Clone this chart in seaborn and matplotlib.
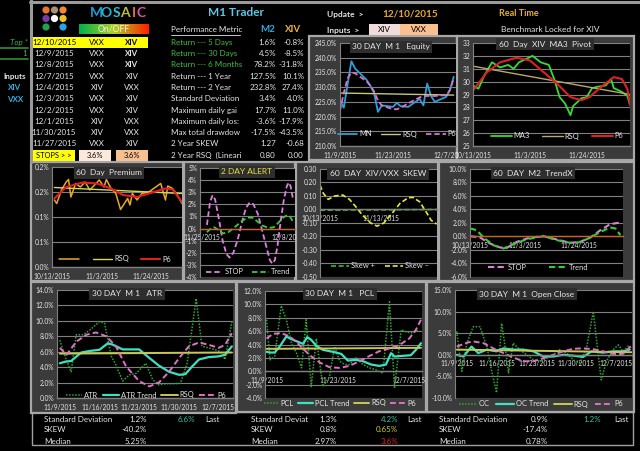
import numpy as np
import pandas as pd
import matplotlib
matplotlib.use('Agg')
import matplotlib.pyplot as plt
from matplotlib.patches import Rectangle, Circle
import seaborn as sns

# ------------------------------------------------------------------ data
table_dates = ['12/10/2015', '12/9/2015', '12/8/2015', '12/7/2015', '12/4/2015',
               '12/3/2015', '12/2/2015', '12/1/2015', '11/30/2015', '11/27/2015']
table_on = ['VXX', 'VXX', 'VXX', 'VXX', 'XIV', 'VXX', 'VXX', 'XIV', 'XIV', 'VXX']
table_off = ['XIV', 'XIV', 'XIV', 'XIV', 'VXX', 'XIV', 'XIV', 'VXX', 'VXX', 'XIV']
stops = ['3.6%', '3.6%']

metric_labels = ['Return --- 5 Days', 'Return --- 30 Days', 'Return --- 6 Months',
                 'Return --- 1 Year', 'Return --- 2 Year', 'Standard Deviation',
                 'Maximum daily gai', 'Maximum daily los:', 'Max total drawdow',
                 '2 Year SKEW', '2 Year RSQ  (Lineari']
metric_m2 = ['1.6%', '4.5%', '78.2%', '127.5%', '232.8%', '3.4%', '17.7%', '-3.6%',
             '-17.5%', '1.27', '0.80']
metric_xiv = ['-0.8%', '-8.5%', '-31.8%', '10.1%', '27.4%', '4.0%', '11.0%', '-17.9%',
              '-43.5%', '-0.68', '0.00']

# 30 DAY M1 Equity (day offsets from 11/9/2015)
eq_days = [0, 1, 2, 3, 4, 7, 8, 9, 10, 11, 14, 15, 16, 18, 21, 22, 23, 24, 25, 28, 29, 30]
eq_mn = [225.5, 223.0, 231.0, 238.8, 236.3, 232.5, 230.5, 228.0, 221.6, 223.8, 223.3,
         224.7, 223.5, 223.3, 226.0, 223.8, 231.2, 227.0, 225.0, 226.7, 229.0, 233.5]
eq_p6 = [222.0, 228.0, 233.0, 235.0, 234.7, 232.0, 230.5, 228.5, 225.5, 223.8, 222.5,
         222.5, 223.0, 224.5, 226.5, 227.0, 227.0, 227.0, 227.0, 227.3, 229.0, 233.0]
eq_rsq_days = [0, 30]
eq_rsq = [228.0, 227.3]
eq_xticks = [0, 14, 28]
eq_xlabels = ['11/9/2015', '11/23/2015', '12/7/20']

# 60 Day XIV MA3 Pivot (day offsets from 10/13/2015)
ma_days = [0, 2, 4, 7, 10, 13, 15, 17, 20, 22, 25, 28, 30, 32, 34, 36, 37, 40, 42, 44,
           46, 49, 51, 52, 55, 57, 58]
ma_vals = [29.7, 29.45, 30.4, 31.5, 31.1, 31.3, 31.0, 31.5, 31.8, 32.0, 31.5, 31.3, 30.2,
           28.8, 28.3, 27.4, 28.1, 28.7, 28.8, 29.5, 29.6, 29.7, 30.2, 29.5, 29.2, 28.9, 28.2]
ma_p6_days = [0, 5, 10, 16, 21, 26, 31, 36, 40, 43, 48, 52, 55, 57, 58]
ma_p6 = [29.3, 30.7, 31.5, 31.85, 31.65, 30.75, 29.85, 28.8, 28.55, 28.8, 29.7, 30.35,
         30.2, 29.45, 28.2]
ma_rsq_days = [0, 58]
ma_rsq = [31.2, 29.0]
ma_xticks = [0, 21, 42]
ma_xlabels = ['10/13/2015', '11/3/2015', '11/24/2015']

# 60 Day Premium
pr_days = [1, 2, 4, 6, 7, 8, 10, 12, 14, 16, 18, 20, 22, 23, 25, 27, 29, 32, 33, 34,
           36, 38, 41, 43, 46, 48, 49, 51, 53, 55]
pr_vals = [0.134, 0.127, 0.154, 0.170, 0.175, 0.140, 0.167, 0.160, 0.170, 0.154, 0.164,
           0.174, 0.160, 0.175, 0.157, 0.147, 0.115, 0.137, 0.124, 0.147, 0.134, 0.147,
           0.150, 0.157, 0.167, 0.134, 0.162, 0.157, 0.144, 0.127]
pr_p6_days = [1, 6, 13, 19, 25, 30, 36, 41, 48, 51, 55]
pr_p6 = [0.137, 0.160, 0.169, 0.167, 0.157, 0.144, 0.140, 0.147, 0.157, 0.155, 0.130]
pr_rsq_days = [1, 55]
pr_rsq = [0.159, 0.147]
pr_xticks = [0, 21, 42]
pr_xlabels = ['10/13/2015', '11/3/2015', '11/24/2015']
pr_yticks = [0.0, 0.05, 0.10, 0.15, 0.20]
pr_ylabels = ['0.0%', '0.1%', '0.1%', '0.2%', '0.2%']

# 2 DAY ALERT (day offsets from 11/25/2015)
al_stop_days = [0.8, 1.3, 1.7, 2.1, 2.7, 3.3, 3.9, 4.4, 5.0, 5.7, 6.4, 7.0, 7.6, 8.2, 8.9,
                9.6, 10.3, 10.8, 11.2, 11.6, 12.0, 12.5, 13.0, 13.5, 13.8, 14.1, 14.5]
al_stop = [0.3, 2.2, 2.75, 2.4, 0.8, -1.0, -2.1, -2.4, -2.0, -0.9, 0.6, 1.7, 2.15, 2.0, 1.2,
           -0.2, -1.6, -2.6, -2.9, -2.6, -1.5, 0.5, 2.3, 3.5, 3.8, 3.5, 2.4]
al_trend_days = [0.8, 1.5, 2.0, 2.7, 3.4, 4.2, 5.2, 6.2, 7.2, 8.0, 8.8, 9.6, 10.6, 11.4,
                 12.2, 13.0, 13.6, 14.0, 14.5]
al_trend = [-0.3, 0.05, 0.1, -0.15, -0.4, -0.3, 0.1, 0.55, 0.9, 0.9, 0.6, 0.25, 0.05, 0.1,
            0.5, 0.95, 1.1, 1.0, 0.55]
al_xticks = [0, 13]
al_xlabels = ['11/25/2015', '12/8/20']

# 60 DAY XIV/VXX SKEW (day offsets from 10/13/2015)
sk_minus_days = [0, 1.7, 4.2, 7.5, 11.7, 15.1, 18.4, 21.8, 26, 29.3, 32.7, 36.9, 41, 45.2,
                 47.7, 51.1, 54.4, 57, 59.8]
sk_minus = [0.181, 0.12, 0.075, 0.10, 0.107, 0.075, 0.02, -0.042, -0.10, -0.123, -0.10,
            -0.03, 0.045, 0.087, 0.09, 0.057, -0.017, -0.08, -0.108]
sk_plus_days = [0, 60]
sk_plus = [-0.005, 0.0]
sk_xticks = [0, 31]
sk_xlabels = ['10/13/2015', '11/13/2015']

# 60 DAY M2 TrendX
tx_stop_days = [0, 3.9, 7.7, 11.6, 14.2, 18, 23.2, 28.4, 33.5, 38.7, 42.5, 46.4, 50.3,
                54.1, 57.3, 58.6]
tx_stop = [0.05, -0.15, -1.04, -1.63, -1.68, -0.8, -0.15, 0.05, -0.45, -0.94, -0.79,
           -0.15, 0.94, 1.83, 2.03, 1.93]
tx_trend_days = [0, 2.6, 5.2, 9, 12.9, 16.8, 21.9, 28.4, 33.5, 38.7, 42.5, 46.4, 50.3,
                 54.1, 56.1, 58]
tx_trend = [1.19, 0.94, -0.15, -1.29, -1.78, -1.14, -0.4, 0.05, -0.54, -0.94, -0.84,
            -0.15, 0.69, 1.34, 1.19, 0.2]
tx_xticks = [0, 21, 42]
tx_xlabels = ['10/13/2015', '11/3/2015', '11/24/2015']

# 30 DAY M1 ATR (day offsets from 11/9/2015)
atr_days = [0, 0.9, 2, 2.9, 4.1, 5.3, 7, 7.9, 9.1, 9.9, 11.1, 12.3, 13.5, 15.2, 16.4, 17.5,
            18.7, 19.9, 21.3, 22.5, 24.1, 25.1, 26.3, 27.5, 28.4, 29.2, 30.4]
atr_vals = [7.5, 5.4, 3.4, 8.2, 8.2, 8.8, 9.9, 9.7, 5.4, 4.3, 2.2, 3.0, 3.2, 4.5, 2.4, 1.7,
            1.85, 1.85, 1.9, 4.5, 12.9, 6.7, 6.5, 6.25, 6.0, 5.0, 9.9]
atr_tr_days = [0, 0.9, 2, 3.8, 5.3, 7, 8.5, 9.4, 11.1, 12.6, 14, 15.8, 17.5, 19.3, 21.1,
               22.2, 23.4, 24.6, 26.3, 28.1, 29.2, 30.4]
atr_trend = [4.5, 4.7, 4.8, 5.9, 6.1, 6.25, 7.1, 6.9, 6.3, 6.3, 6.3, 5.2, 4.2, 3.4, 3.0,
             3.1, 4.1, 5.0, 5.3, 5.4, 5.6, 6.7]
atr_p6_days = [0, 1.2, 2.9, 4.7, 6.4, 8.2, 9.9, 11.7, 14, 15.8, 17.5, 19.3, 21.1, 22.8,
               24.6, 26.3, 28.1, 29.2, 30.4]
atr_p6 = [6.5, 5.6, 7.3, 8.2, 8.5, 8.0, 6.7, 4.1, 2.2, 1.5, 2.0, 3.4, 5.2, 6.7, 7.2, 6.9,
          6.5, 6.9, 8.4]
atr_rsq_days = [0, 30.4]
atr_rsq = [5.75, 5.9]
d30_xticks = [0, 7, 14, 21, 28]
d30_xlabels = ['11/9/2015', '11/16/2015', '11/23/2015', '11/30/2015', '12/7/2015']

# 30 DAY M1 PCL
pcl_days = [0, 0.7, 1.6, 2.9, 3.9, 4.9, 5.9, 6.9, 7.8, 8.8, 9.8, 11.1, 12.4, 13.4, 14.4,
            15.4, 16.3, 17.6, 19, 20.3, 21.6, 22.9, 24.2, 25.2, 26.5, 27.5, 28.8, 30.1]
pcl_vals = [7.7, 1.7, 2.2, 9.8, 7.7, 4.2, 2.7, 0.5, 7.7, -2.3, 4.9, -2.3, -0.8, 3.7, 1.5,
            1.0, 1.0, 2.0, 1.0, 0.5, 0.2, -0.3, 10.4, -2.5, 6.2, 5.9, 5.7, 6.2]
pcl_tr_days = [0, 0.7, 1.6, 2.6, 3.9, 4.9, 6.2, 7.2, 8, 8.8, 9.8, 11.1, 13.1, 14.7, 16,
               17.6, 19, 20.6, 22.2, 23.5, 24.5, 25.2, 26.8, 28.4, 29.4, 30.4]
pcl_trend = [2.9, 2.8, 2.8, 3.7, 5.2, 4.8, 4.4, 4.1, 5.1, 4.7, 3.8, 3.2, 2.9, 2.6, 1.6,
             1.7, 1.5, 1.0, 0.8, 1.0, 2.7, 2.2, 2.3, 2.4, 3.2, 4.2]
pcl_p6_days = [0, 1.3, 2.9, 4.6, 6.5, 8.5, 10.5, 12.4, 14.4, 16.3, 18.3, 20.3, 22.2, 24.2,
               26.1, 28.1, 29.4, 30.4]
pcl_p6 = [4.9, 5.6, 5.7, 5.2, 3.9, 2.4, 1.3, 0.6, 0.5, 0.8, 1.5, 2.3, 3.0, 3.4, 3.9, 4.9,
          6.2, 7.7]
pcl_rsq_days = [0, 30.4]
pcl_rsq = [3.35, 3.5]
pcl_xticks = [0, 14, 28]
pcl_xlabels = ['11/9/2015', '11/23/2015', '12/7/2015']

# 30 DAY M1 Open Close
oc_days = [0, 0.9, 1.8, 2.9, 4.1, 5.3, 6.1, 7, 7.9, 8.5, 9.1, 9.9, 11.1, 12.3, 13.5, 14.6,
           15.8, 17, 18.1, 19.3, 20.5, 21.6, 22.8, 24, 24.9, 25.4, 26.3, 27.5, 28.4, 29.2,
           30.4]
oc_vals = [5.4, -3.8, 2.7, 6.5, 6.5, 1.9, -3.5, -8.8, 7.3, 1.9, -4.2, 2.7, 1.2, 0.0, -1.2,
           -1.5, -0.8, 0.0, 1.2, 0.4, -1.2, -1.9, 1.5, 10.0, -0.4, -5.8, -1.5, 1.2, 2.3,
           0.8, 2.3]
oc_tr_days = [0, 1.2, 2.6, 3.8, 5.3, 7, 8.2, 9.9, 11.7, 13.5, 15.2, 17, 18.7, 20.5, 22.2,
              23.7, 25.7, 27.5, 29.2, 30.4]
oc_trend = [0.0, -0.4, 1.9, 0.4, 1.2, 0.8, 1.5, 1.2, 1.2, 0.8, -0.4, -0.4, 0.0, -0.2, -0.5,
            0.8, 0.5, 0.8, 0.8, 1.2]
oc_p6_days = [0, 1.8, 2.9, 4.7, 6.4, 8.2, 9.9, 11.7, 13.5, 15.2, 17, 18.7, 20.5, 22.2, 24,
              25.7, 27.5, 29.2, 30.7]
oc_p6 = [1.9, 2.8, 3.1, 2.7, 1.5, 0.4, -0.6, -1.5, -1.5, -0.8, 0.0, 0.8, 1.4, 1.5, 1.3,
         0.8, 0.2, 0.2, 2.1]
oc_rsq_days = [0, 30.7]
oc_rsq = [1.2, 0.6]

# bottom statistics
stat_labels = ['Standard Deviation', 'SKEW', 'Median']
atr_stats = ['1.2%', '-40.2%', '5.25%']
atr_last = '6.6%'
pcl_stat_labels = ['Standard Deviat', 'SKEW', 'Median']
pcl_stats = ['1.3%', '0.8%', '2.97%']
pcl_extra = ['4.2%', '0.65%', '3.6%']
oc_stats = ['0.9%', '-17.4%', '0.78%']
oc_last = '1.2%'

# ------------------------------------------------------------------ style
sns.set_theme(style='dark')
plt.rcParams['font.family'] = ['Lato', 'DejaVu Sans']
W, H = 640, 451
PANEL = '#3b3b3b'
BORDER = '#a8a8a8'
TXT = '#e6e6e6'
GRID = '#808080'
FS_TICK = 4.8
FS_TAB = 5.8
FS_LEG = 5.4

fig = plt.figure(figsize=(6.4, 4.51), dpi=100, facecolor='black')
bg = fig.add_axes([0, 0, 1, 1])
bg.set_facecolor('black')
bg.axis('off')


def T(x, y, s, ha='left', va='center', color=TXT, size=FS_TAB, **kw):
    return fig.text(x / W, 1 - y / H, s, ha=ha, va=va, color=color, fontsize=size, **kw)


def rect(l, t, r, b, fc, ec='none', lw=0.0, z=1):
    bg.add_patch(Rectangle((l, t), r - l, b - t, facecolor=fc, edgecolor=ec, lw=lw, zorder=z))


def line(ax, x, y, color, lw=1.2, ls='-'):
    sns.lineplot(x=x, y=y, ax=ax, color=color, linewidth=lw, linestyle=ls,
                 errorbar=None, sort=False, legend=False)
    return ax.lines[-1]


def chart(panel, plot, title, title_xy, ylim, yticks, ylabels, xlim, xticks, xlabels,
          zero_axis=False, zero_color=GRID, title_color=TXT):
    l, t, r, b = panel
    rect(l, t, r, b, PANEL, BORDER, 1.6, z=1)
    pl, pt, pr, pb = plot
    ax = fig.add_axes([pl / W, 1 - pb / H, (pr - pl) / W, (pb - pt) / H])
    ax.set_facecolor('black')
    ax.set_ylim(*ylim)
    ax.set_xlim(*xlim)
    ax.set_yticks(yticks)
    ax.set_yticklabels(ylabels)
    ax.set_xticks(xticks)
    ax.set_xticklabels(xlabels)
    ax.yaxis.grid(True, color=GRID, lw=0.8)
    ax.xaxis.grid(False)
    ax.set_axisbelow(True)
    for s in ['top', 'right']:
        ax.spines[s].set_visible(False)
    ax.spines['left'].set_color(GRID)
    ax.spines['left'].set_linewidth(0.8)
    ax.spines['bottom'].set_color(zero_color)
    ax.spines['bottom'].set_linewidth(1.0)
    if zero_axis:
        ax.spines['bottom'].set_position(('data', 0))
    ax.tick_params(axis='y', length=0, pad=2, labelsize=FS_TICK, labelcolor=TXT)
    ax.tick_params(axis='x', length=2.5, width=0.6, color=GRID, pad=1.5,
                   labelsize=FS_TICK, labelcolor=TXT, direction='out')
    ax.set_xlabel('')
    ax.set_ylabel('')
    T(title_xy[0], title_xy[1], title, ha='center', color=title_color, size=6.0,
      bbox=dict(boxstyle='square,pad=0.3', facecolor='#2e2e2e', edgecolor='none'),
      zorder=6)
    return ax


def legend(ax, handles, labels, cx, cy, hl=2.4, cs=1.0):
    ax.legend(handles, labels, loc='center', bbox_to_anchor=(cx / W, 1 - cy / H),
              bbox_transform=fig.transFigure, ncol=len(labels), frameon=False,
              fontsize=FS_LEG, labelcolor=TXT, handlelength=hl, columnspacing=cs,
              handletextpad=0.25, borderpad=0.1)


# ------------------------------------------------------------------ header area
bg.plot([30, 640], [2, 2], color='#9a9a9a', lw=2.2)
bg.plot([30.5, 30.5], [0, 162], color='#9a9a9a', lw=2.2)

dot_xy = [(46, 10), (54.5, 10), (63, 10), (46, 18.5), (54.5, 18.5), (63, 18.5), (46, 27), (63, 27)]
dot_c = ['#e8742a', '#a89070', '#f08a30', '#7a3aa8', '#ffffff', '#f0c020', '#20a050', '#20a8e8']
for (dx, dy), dc in zip(dot_xy, dot_c):
    bg.add_patch(Circle((dx, dy), 3.6, facecolor=dc, edgecolor='none', zorder=3))

for ch, cx, cc in zip('MOSAIC', [96, 106.5, 116, 125, 133.5, 141.5],
                      ['#1f9fd8', '#22b5d8', '#2cc0c8', '#b8c040', '#e86a3a', '#e050a0']):
    T(cx, 13, ch, ha='center', color=cc, size=10, fontweight='bold')

grad = np.linspace(0, 1, 100).reshape(1, -1)
bg.imshow(grad, cmap=matplotlib.colors.LinearSegmentedColormap.from_list(
    'onoff', ['#00b050', '#b0d020', '#ff2000']), extent=(79, 149, 34, 24),
    aspect='auto', zorder=2)
T(114, 29.3, 'On/OFF', ha='center', color='#f0f0f0', size=6.2)

row_y = [42.3 + 11.3 * i for i in range(len(table_dates))]
rect(33, 37, 148, 48, '#ffff00', z=2)
for i, (d, a, b) in enumerate(zip(table_dates, table_on, table_off)):
    c = 'black' if i == 0 else TXT
    T(54, row_y[i], d, ha='center', color=c)
    T(97, row_y[i], a, ha='center', color=c)
    T(132, row_y[i], b, ha='center', color=c, fontweight='bold' if i < 3 else 'normal')

stop_y = 155.3
rect(33, 150, 75, 161, '#ffff00', z=2)
rect(79, 150, 111, 161, '#fde9d9', z=2)
rect(116, 150, 148, 161, '#fabf8f', z=2)
T(54, stop_y, 'STOPS > >', ha='center', color='black', size=5.4)
T(95, stop_y, stops[0], ha='center', color='black', size=5.4)
T(132, stop_y, stops[1], ha='center', color='black', size=5.4)

T(19, 42.3, 'Top *', ha='center', color='#3cb44b', fontstyle='italic')
bg.plot([0, 28], [48, 48], color='#2f8f2f', lw=1.2)
T(27, 53.5, '1', ha='right', color='#3cb44b')
bg.plot([0, 28], [59, 59], color='#2f8f2f', lw=1.2)
T(15, 76, 'Inputs', ha='center', color=TXT, fontweight='bold')
T(15, 87.3, 'XIV', ha='center', color='#30b0e0', fontweight='bold')
T(15, 99, 'VXX', ha='center', color='#30b0e0', fontweight='bold')

T(236, 13, 'M1 Trader', ha='center', color='#5cc8e8', size=8.5, fontweight='bold')
T(171, 30, 'Performance Metric', color=TXT)
bg.plot([171, 240], [34.5, 34.5], color=TXT, lw=0.6)
T(268, 30, 'M2', ha='center', color='#30a8e0', size=7, fontweight='bold')
T(293, 30, 'XIV', ha='center', color='#e8b030', size=7, fontweight='bold')
for i, (lab, a, b) in enumerate(zip(metric_labels, metric_m2, metric_xiv)):
    c = '#3cc03c' if i < 3 else TXT
    T(171, row_y[0] + 11.3 * i, lab, color=c)
    T(276, row_y[0] + 11.3 * i, a, ha='right')
    T(304, row_y[0] + 11.3 * i, b, ha='right')

T(327, 14, 'Update  >', color=TXT, size=6, fontweight='bold')
T(382, 14, '12/10/2015', color='#e8a830', size=7.2, fontweight='bold')
T(499, 14, 'Real Time', color='#e8b030', size=6.5, fontweight='bold')
T(327, 30, 'Inputs  >', color=TXT, size=6, fontweight='bold')
rect(369, 24, 400, 35, '#f2dcdb', z=2)
rect(400, 24, 438, 35, '#fac090', z=2)
T(384.5, 29.5, 'XIV', ha='center', color='black', size=5.8)
T(419, 29.5, 'VXX', ha='center', color='black', size=5.8)
T(501, 30, 'Benchmark Locked for XIV', color=TXT, size=6)

# ------------------------------------------------------------------ charts
PINK = '#e070c8'
DASH = (0, (3, 1.6))
DOT = (0, (1, 1))

# Equity
ax = chart((309, 36, 457, 160), (340, 43, 456, 146), '30 DAY  M 1   Equity', (391, 47),
           (210, 245), np.arange(210, 246, 5), [f'{v:.1f}%' for v in np.arange(210, 246, 5)],
           (0, 30.6), eq_xticks, eq_xlabels)
h1 = line(ax, eq_days, eq_mn, '#2e9fd8', 1.3)
h2 = line(ax, eq_rsq_days, eq_rsq, '#c8c878', 1.0)
h3 = line(ax, eq_days, eq_p6, PINK, 1.3, DASH)
legend(ax, [h1, h2, h3], ['MN', 'RSQ', 'P6'], 397, 134, hl=2.6, cs=1.2)

# MA3 Pivot
ax = chart((457, 36, 634, 160), (473, 43, 630, 146), '60  Day  XIV  MA3  Pivot', (545, 44),
           (25, 33), np.arange(25, 34), [str(v) for v in range(25, 34)],
           (0, 58), ma_xticks, ma_xlabels)
h1 = line(ax, ma_days, ma_vals, '#33dd33', 1.3)
h2 = line(ax, ma_rsq_days, ma_rsq, '#b8ab6a', 1.0)
h3 = line(ax, ma_p6_days, ma_p6, '#e02020', 1.5)
legend(ax, [h1, h2, h3], ['MA3', 'RSQ', 'P6'], 557, 136, hl=2.8, cs=1.6)

# Premium
ax = chart((31, 162, 183, 281), (52, 167, 182, 267), '60  Day  Premium', (109, 173),
           (0, 0.2), pr_yticks, pr_ylabels, (0, 55), pr_xticks, pr_xlabels)
h1 = line(ax, pr_days, pr_vals, '#e8a82a', 1.1)
h2 = line(ax, pr_rsq_days, pr_rsq, '#d8d850', 1.0)
h3 = line(ax, pr_p6_days, pr_p6, '#e02020', 1.5)
legend(ax, [h1, h2, h3], ['', 'RSQ', 'P6'], 115, 259, hl=2.6, cs=1.6)

# 2 DAY ALERT
ax = chart((184, 162, 295, 281), (200, 168, 295, 277), '2 DAY ALERT', (247, 172),
           (-4, 5), np.arange(-4, 6), [f'{v}%' for v in range(-4, 6)],
           (-0.3, 14.8), al_xticks, al_xlabels, zero_axis=True, zero_color='#c8642a',
           title_color='#e8e040')
h1 = line(ax, al_stop_days, al_stop, '#e07ee0', 1.3, DASH)
h2 = line(ax, al_trend_days, al_trend, '#30d030', 1.3, DASH)
legend(ax, [h1, h2], ['STOP', 'Trend'], 248, 272, hl=2.2, cs=1.2)

# SKEW
sk_ticks = np.round(np.arange(-0.5, 0.31, 0.1), 2)
ax = chart((296, 162, 438, 281), (320, 169, 437, 277), '60  DAY  XIV/VXX  SKEW', (378, 174),
           (-0.5, 0.3), sk_ticks, [f'{v:.2f}' if v != 0 else '0.00' for v in sk_ticks],
           (0, 60), sk_xticks, sk_xlabels, zero_axis=True)
h1 = line(ax, sk_plus_days, sk_plus, '#30c030', 1.2, DASH)
h2 = line(ax, sk_minus_days, sk_minus, '#e8e830', 1.2, DASH)
legend(ax, [h1, h2], ['Skew +', 'Skew \u2013'], 380, 266, hl=2.4, cs=1.4)

# TrendX
tx_ticks = np.arange(-6, 11, 2)
ax = chart((439, 162, 634, 281), (470, 169, 623, 277), '60  DAY  M2  TrendX', (533, 173),
           (-6, 10), tx_ticks, [f'{v:.1f}%' for v in tx_ticks], (0, 59), tx_xticks,
           tx_xlabels, zero_axis=True, zero_color='#c8642a')
h1 = line(ax, tx_stop_days, tx_stop, '#e07ee0', 1.5, DASH)
h2 = line(ax, tx_trend_days, tx_trend, '#30d030', 1.5, DASH)
legend(ax, [h1, h2], ['STOP', 'Trend'], 538, 267, hl=2.4, cs=3.0)

# ATR
atr_ticks = np.arange(0, 15, 2)
ax = chart((31, 282, 236, 413), (57, 290, 233, 398), '30 DAY  M 1   ATR', (127, 294),
           (0, 14), atr_ticks, [f'{v:.1f}%' for v in atr_ticks], (-0.5, 30.6),
           d30_xticks, d30_xlabels)
h1 = line(ax, atr_days, atr_vals, '#2ea82e', 1.1, DOT)
h2 = line(ax, atr_tr_days, atr_trend, '#3ee0c0', 1.6)
h3 = line(ax, atr_rsq_days, atr_rsq, '#c8c850', 1.4)
h4 = line(ax, atr_p6_days, atr_p6, PINK, 1.4, DASH)
legend(ax, [h1, h2, h3, h4], ['ATR', 'ATR Trend', 'RSQ', 'P6'], 146, 395, hl=2.2, cs=0.6)

# PCL
pcl_ticks = np.arange(-4, 13, 2)
ax = chart((237, 282, 426, 412), (265, 291, 422, 398), '30 DAY  M 1   PCL', (340, 294),
           (-4, 12), pcl_ticks, [f'{v:.1f}%' for v in pcl_ticks], (-0.3, 30.6),
           pcl_xticks, pcl_xlabels, zero_axis=True)
h1 = line(ax, pcl_days, pcl_vals, '#2ea82e', 1.1, DOT)
h2 = line(ax, pcl_tr_days, pcl_trend, '#3ee0c0', 1.6)
h3 = line(ax, pcl_rsq_days, pcl_rsq, '#c8c850', 1.4)
h4 = line(ax, pcl_p6_days, pcl_p6, PINK, 1.4, DASH)
legend(ax, [h1, h2, h3, h4], ['PCL', 'PCL Trend', 'RSQ', 'P6'], 340, 403, hl=2.0, cs=0.6)

# Open Close
oc_ticks = np.arange(-10, 16, 5)
ax = chart((427, 282, 634, 412), (455, 290, 632, 398), '30 DAY  M 1  Open Close', (527, 294),
           (-10, 15), oc_ticks, [f'{v:.1f}%' for v in oc_ticks], (-0.3, 30.8),
           d30_xticks, d30_xlabels, zero_axis=True)
h1 = line(ax, oc_days, oc_vals, '#2ea82e', 1.1, DOT)
h2 = line(ax, oc_tr_days, oc_trend, '#3ee0c0', 1.6)
h3 = line(ax, oc_rsq_days, oc_rsq, '#c8c850', 1.4)
h4 = line(ax, oc_p6_days, oc_p6, PINK, 1.4, DASH)
legend(ax, [h1, h2, h3, h4], ['OC', 'OC Trend', 'RSQ', 'P6'], 541, 404, hl=2.4, cs=0.8)

# ------------------------------------------------------------------ bottom statistics
rect(32, 412, 633, 445, 'none', '#a0a0a0', 1.0, z=0)
sy = [419, 430, 441]
for i in range(3):
    T(44, sy[i], stat_labels[i])
    T(147, sy[i], atr_stats[i], ha='right')
    T(251, sy[i], pcl_stat_labels[i])
    T(337, sy[i], pcl_stats[i], ha='right')
    T(439, sy[i], stat_labels[i])
    T(548, sy[i], oc_stats[i], ha='right')
T(195, sy[0], atr_last, ha='right', color='#30c0a0')
T(205, sy[0], 'Last')
T(398, sy[0], pcl_extra[0], ha='right', color='#30c0a0')
T(398, sy[1], pcl_extra[1], ha='right', color='#d0d020')
T(398, sy[2], pcl_extra[2], ha='right', color='#e02020')
T(407, sy[0], 'Last')
T(601, sy[0], oc_last, ha='right', color='#30c0a0')
T(614, sy[0], 'Last')

bg.set_xlim(0, W)
bg.set_ylim(H, 0)
fig.savefig('out.png', dpi=100, facecolor='black')
